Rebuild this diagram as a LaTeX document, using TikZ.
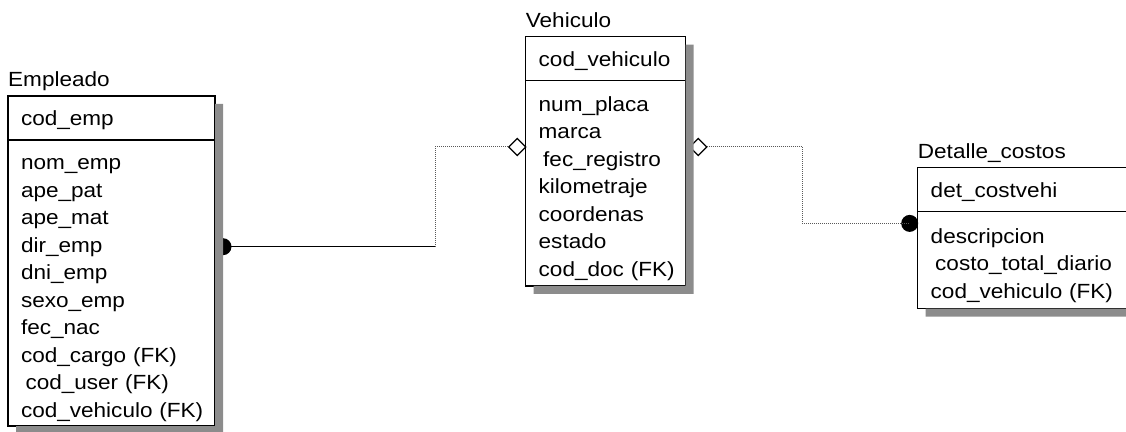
\documentclass[tikz,border=0pt]{standalone}
\usepackage{fontspec}
\setmainfont{Liberation Sans}[FakeStretch=1.1]
\usetikzlibrary{positioning, shapes.geometric, calc}

\tikzset{
  tabhead/.style={draw, line width=1.2pt, fill=white, inner xsep=13pt, inner ysep=0pt,
    outer sep=0pt, text width=#1, align=left, minimum height=44pt,
    execute at begin node={\rule{0pt}{20pt}}},
  tabbody/.style={draw, line width=1.2pt, fill=white, inner xsep=13pt, inner ysep=0pt,
    outer sep=0pt, text width=#1, align=left,
    execute at begin node={\rule{0pt}{25pt}}},
  tabtitle/.style={anchor=base west, inner sep=0pt},
  dotmark/.style={circle, fill=black, minimum size=17pt, inner sep=0pt, outer sep=0pt},
  diamark/.style={diamond, draw, line width=1.2pt, fill=white, minimum size=17pt,
    inner sep=0pt, outer sep=0pt},
  fkline/.style={line width=1pt, black},
  nonid/.style={line width=1pt, black!65, densely dotted},
  shade/.style={fill=black!45}
}
\newcommand\tabshadow[2]{%
  \fill[shade] ([yshift=-8pt]#1.north east) -- ++(8pt,0)
    |- ([xshift=8pt,yshift=-8pt]#2.south west) |- (#2.south east) -- cycle;}

\begin{document}
\begin{tikzpicture}[x=1pt, y=1pt, font=\fontsize{20.5}{27.5}\selectfont]
  \clip (0,0) rectangle (1126,431);
  % Empleado
  \node[tabhead=181pt, anchor=north west] (emph) at (8,335) {cod\_emp};
  \node[tabbody=181pt, minimum height=286pt, below=0pt of emph] (empb)
    {nom\_emp\\ape\_pat\\ape\_mat\\dir\_emp\\dni\_emp\\sexo\_emp\\fec\_nac\\
     cod\_cargo~(FK)\\\hspace*{4.5pt}cod\_user~(FK)\\cod\_vehiculo~(FK)};
  \node[tabtitle] (empt) at ([yshift=9pt]emph.north west) {Empleado};
  % Vehiculo
  \node[tabhead=134pt, anchor=north west] (vehh) at (525.7,394.3) {cod\_vehiculo};
  \node[tabbody=134pt, minimum height=205.3pt, below=0pt of vehh] (vehb)
    {num\_placa\\marca\\\hspace*{4.5pt}fec\_registro\\kilometraje\\coordenas\\estado\\
     cod\_doc~(FK)};
  \node[tabtitle] (veht) at ([yshift=9pt]vehh.north west) {Vehiculo};
  % Detalle_costos
  \node[tabhead=204pt, anchor=north west] (deth) at (917.7,263.3) {det\_costvehi};
  \node[tabbody=204pt, minimum height=97pt, below=0pt of deth] (detb)
    {descripcion\\\hspace*{4.5pt}costo\_total\_diario\\cod\_vehiculo~(FK)};
  \node[tabtitle] (dett) at ([yshift=9pt]deth.north west) {Detalle\_costos};

  % relaciones
  \node[dotmark] (c1) at ([xshift=8pt,yshift=-106.7pt]empb.north east) {};
  \node[diamark] (d1) at ([xshift=-8.5pt,yshift=-66.3pt]vehb.north west) {};
  \node[diamark] (d2) at ([xshift=12.5pt,yshift=-66.3pt]vehb.north east) {};
  \node[dotmark] (c2) at ([xshift=-8pt,yshift=-11.7pt]detb.north west) {};
  \draw[fkline] (c1.center) -- ++(212pt,0) coordinate (k1);
  \draw[nonid] (k1) |- (d1.west);
  \draw[nonid] (d2.east) -- ++(95.7pt,0) |- (c2.center);

  \tabshadow{emph}{empb}
  \tabshadow{vehh}{vehb}
  \tabshadow{deth}{detb}
\end{tikzpicture}
\end{document}
